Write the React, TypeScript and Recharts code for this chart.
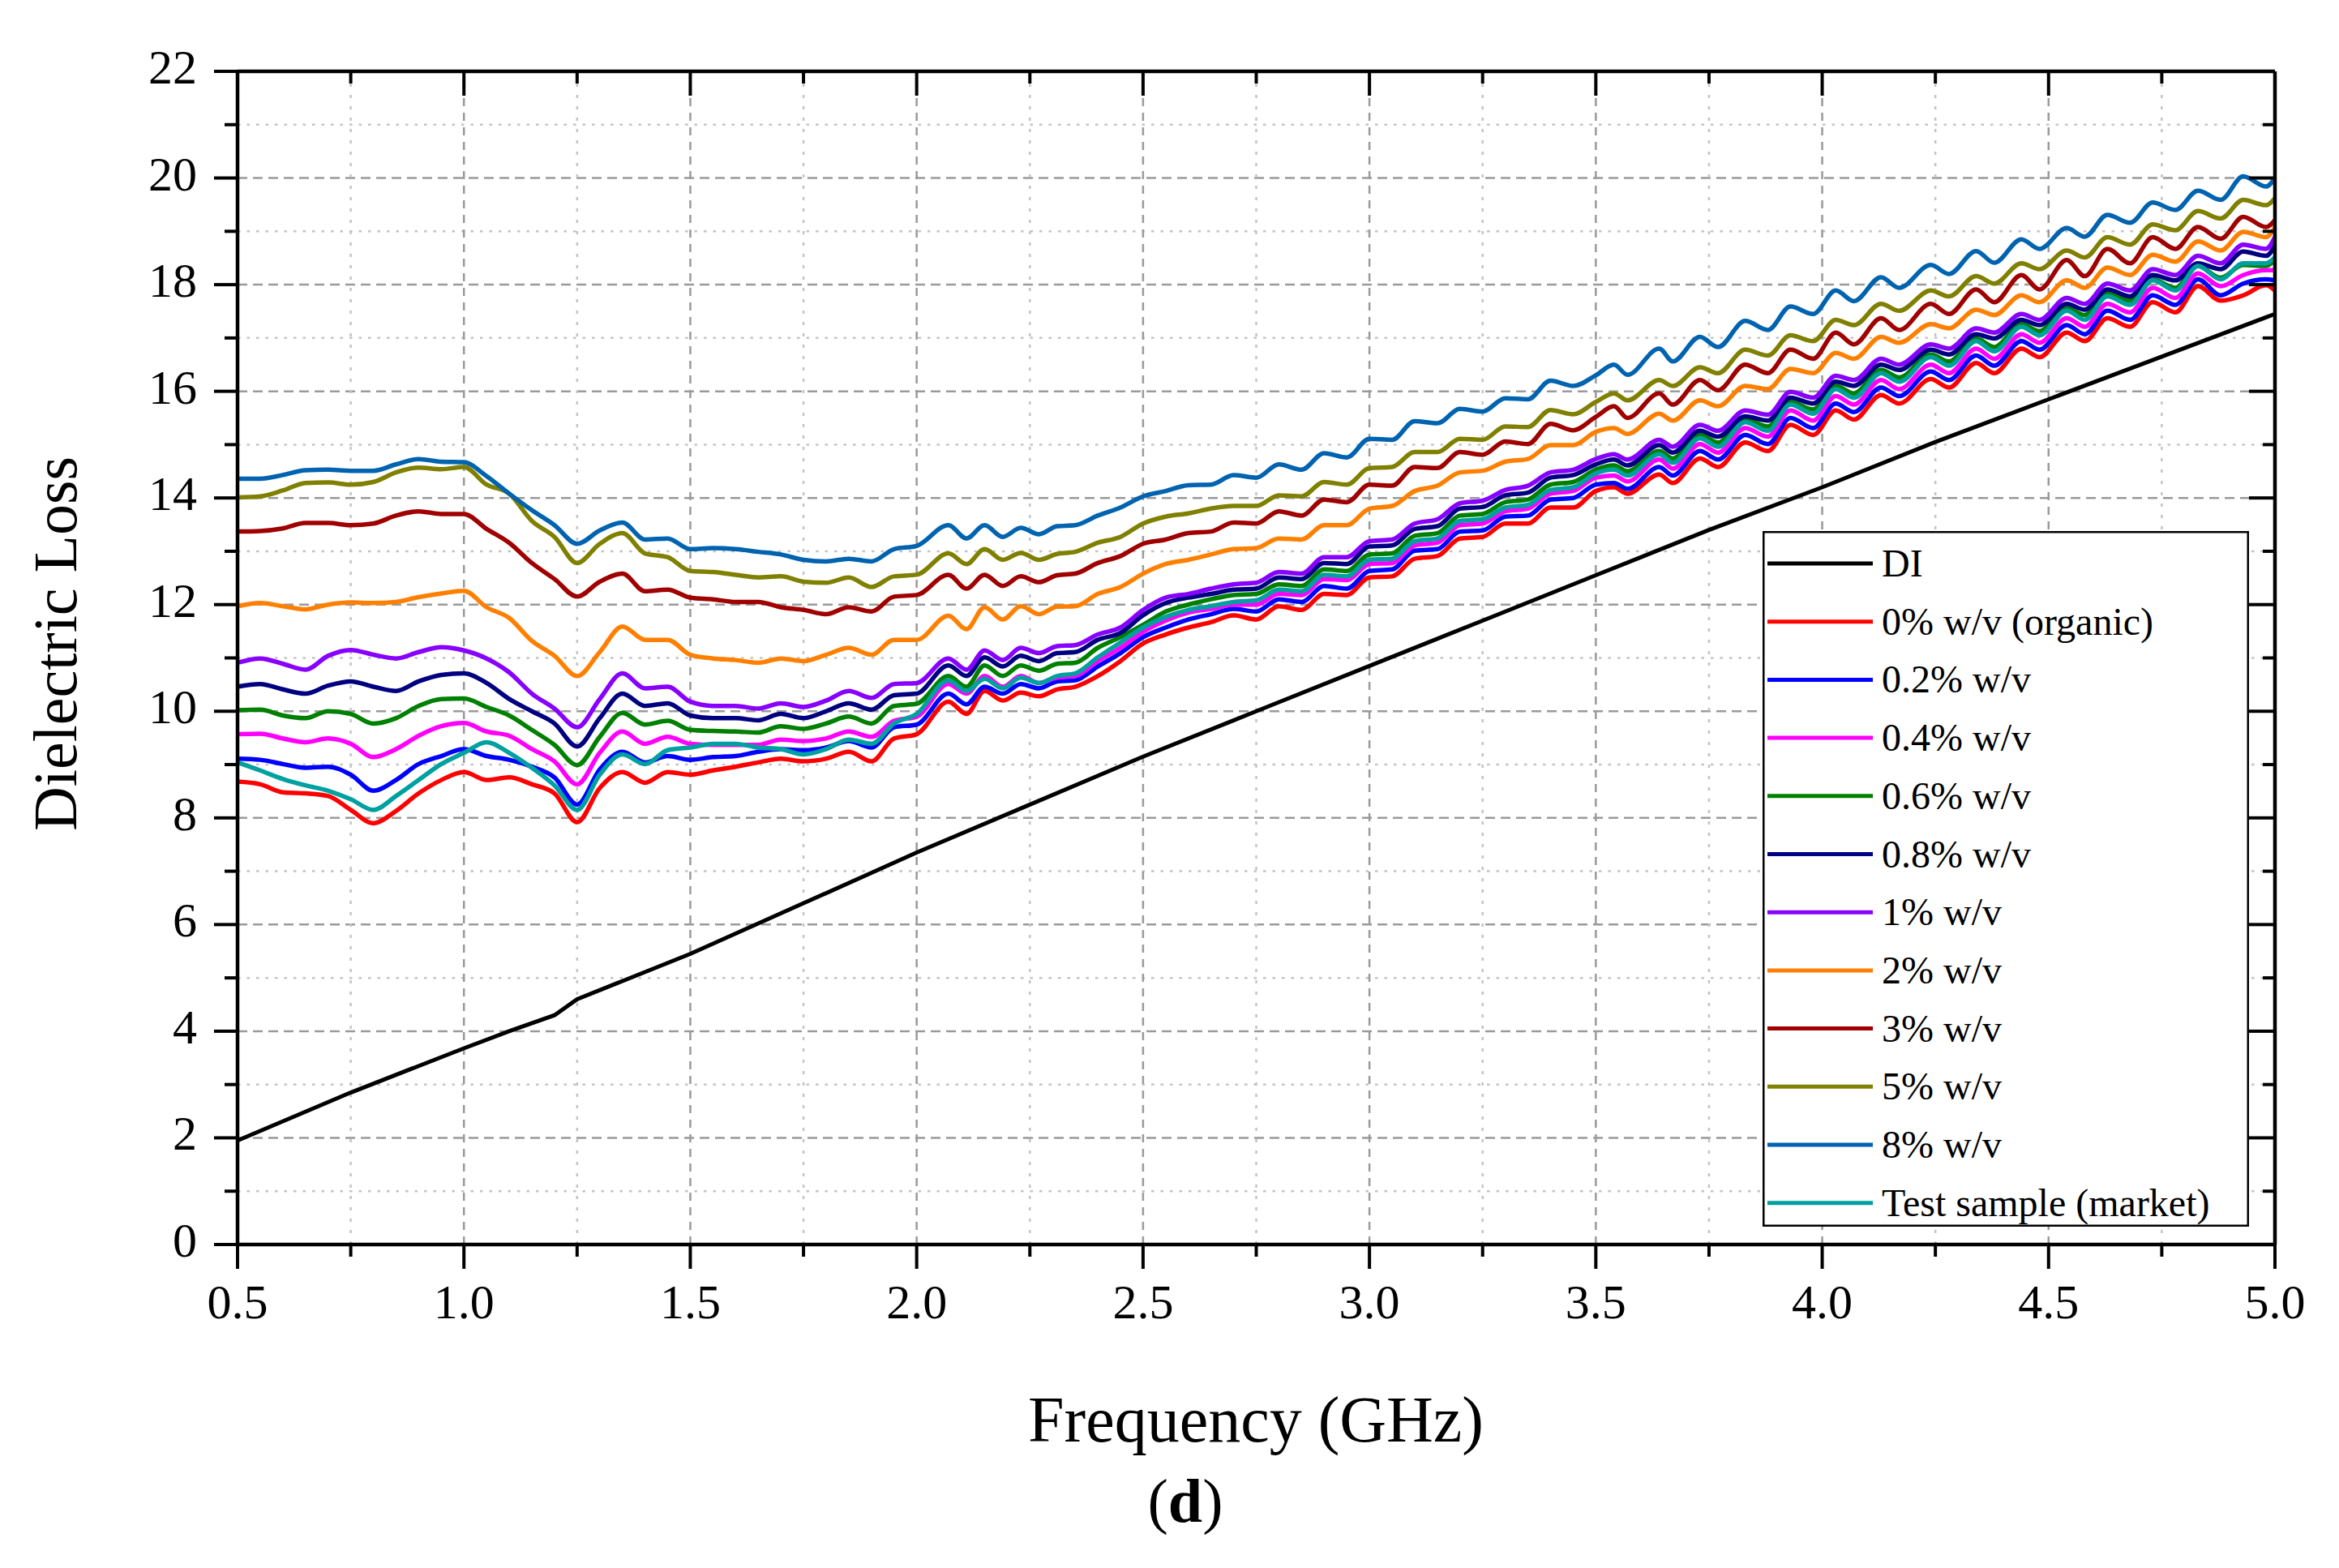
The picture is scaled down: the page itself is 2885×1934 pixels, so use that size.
import { LineChart, Line, XAxis, YAxis, ReferenceLine, Legend } from 'recharts'

const FONT = '"Liberation Serif", "Times New Roman", serif'

// frequency grid (GHz); denser around the ripple peaks/troughs
const FREQ = [
  0.5, 0.55, 0.6, 0.65, 0.7, 0.75, 0.8, 0.85, 0.9, 0.95, 1, 1.05, 1.1, 1.15, 1.2, 1.25, 1.3, 1.35, 1.4, 1.45, 1.5,
  1.55, 1.6, 1.65, 1.7, 1.75, 1.8, 1.85, 1.9, 1.95, 2,
  2.07, 2.11, 2.15, 2.19, 2.23, 2.27, 2.31, 2.35,
  2.4, 2.45, 2.5, 2.55, 2.6, 2.65, 2.7, 2.75, 2.8, 2.85, 2.9, 2.95, 3, 3.05, 3.1, 3.15, 3.2, 3.25, 3.3, 3.35, 3.4, 3.45, 3.5,
  3.54, 3.57, 3.64, 3.67, 3.73, 3.77, 3.83, 3.88, 3.93, 3.98, 4.03, 4.07, 4.13, 4.17, 4.24, 4.28, 4.34, 4.38, 4.44, 4.48,
  4.54, 4.58, 4.63, 4.68, 4.73, 4.78, 4.83, 4.88, 4.93, 4.98, 5,
]

const DI_FREQ = [0.5, 0.75, 1.0, 1.1, 1.2, 1.25, 1.5, 1.75, 2.0, 2.25, 2.5, 2.75, 3.0, 3.25, 3.5, 3.75, 4.0, 4.25, 4.5, 4.75, 5.0]
const DI_LOSS = [1.95, 2.85, 3.68, 4.0, 4.3, 4.6, 5.45, 6.4, 7.35, 8.25, 9.15, 10.0, 10.85, 11.7, 12.55, 13.4, 14.2, 15.05, 15.85, 16.65, 17.45]

const LOSS_0 = [
  8.68, 8.63, 8.48, 8.46, 8.41, 8.15, 7.90, 8.13, 8.46, 8.71, 8.86, 8.71, 8.76, 8.63, 8.46, 7.92, 8.56, 8.86, 8.66, 8.86, 8.81,
  8.89, 8.96, 9.04, 9.11, 9.06, 9.11, 9.24, 9.06, 9.49, 9.57,
  10.18, 9.95, 10.38, 10.20, 10.35, 10.28, 10.41, 10.46,
  10.66, 10.94, 11.27, 11.44, 11.57, 11.67, 11.80, 11.72, 11.97, 11.90, 12.20, 12.18, 12.51, 12.53, 12.86, 12.91, 13.24, 13.27, 13.52, 13.52, 13.82, 13.82, 14.13,
  14.20, 14.08, 14.44, 14.28, 14.74, 14.58, 15.04, 14.88, 15.37, 15.18, 15.64, 15.47, 15.93, 15.77, 16.23, 16.07, 16.53, 16.34, 16.80, 16.64,
  17.10, 16.94, 17.37, 17.21, 17.67, 17.48, 17.97, 17.70, 17.80, 17.99, 17.89,
]
const LOSS_02 = [
  9.11, 9.09, 9.01, 8.94, 8.96, 8.81, 8.51, 8.71, 9.01, 9.16, 9.29, 9.16, 9.09, 8.96, 8.76, 8.25, 8.91, 9.24, 9.04, 9.16, 9.09,
  9.14, 9.16, 9.24, 9.29, 9.27, 9.32, 9.44, 9.32, 9.70, 9.75,
  10.33, 10.13, 10.46, 10.33, 10.51, 10.43, 10.56, 10.58,
  10.84, 11.09, 11.39, 11.57, 11.72, 11.82, 11.92, 11.87, 12.10, 12.05, 12.35, 12.30, 12.63, 12.66, 13.01, 13.04, 13.37, 13.39, 13.65, 13.67, 13.97, 14.00, 14.25,
  14.28, 14.17, 14.58, 14.42, 14.88, 14.72, 15.18, 15.01, 15.50, 15.31, 15.77, 15.61, 16.07, 15.91, 16.37, 16.21, 16.67, 16.48, 16.94, 16.78,
  17.24, 17.07, 17.51, 17.34, 17.80, 17.62, 18.10, 17.80, 18.02, 18.10, 18.08,
]
const LOSS_04 = [
  9.57, 9.58, 9.49, 9.42, 9.49, 9.39, 9.14, 9.29, 9.54, 9.72, 9.78, 9.62, 9.54, 9.29, 9.06, 8.63, 9.22, 9.62, 9.39, 9.52, 9.39,
  9.37, 9.37, 9.37, 9.47, 9.44, 9.49, 9.62, 9.52, 9.82, 9.90,
  10.51, 10.33, 10.66, 10.46, 10.66, 10.53, 10.63, 10.66,
  10.94, 11.19, 11.49, 11.70, 11.85, 11.92, 12.00, 12.00, 12.20, 12.18, 12.48, 12.46, 12.76, 12.78, 13.11, 13.16, 13.49, 13.52, 13.75, 13.80, 14.08, 14.13, 14.38,
  14.42, 14.31, 14.72, 14.55, 15.01, 14.85, 15.31, 15.15, 15.64, 15.45, 15.91, 15.75, 16.21, 16.04, 16.50, 16.34, 16.80, 16.61, 17.07, 16.91,
  17.37, 17.21, 17.64, 17.48, 17.94, 17.75, 18.21, 17.97, 18.18, 18.27, 18.27,
]
const LOSS_06 = [
  10.02, 10.03, 9.92, 9.87, 10.00, 9.95, 9.77, 9.87, 10.10, 10.23, 10.24, 10.08, 9.92, 9.65, 9.37, 8.99, 9.52, 9.97, 9.75, 9.82, 9.65,
  9.63, 9.62, 9.60, 9.72, 9.67, 9.77, 9.90, 9.77, 10.10, 10.14,
  10.66, 10.46, 10.86, 10.66, 10.86, 10.76, 10.89, 10.91,
  11.19, 11.39, 11.62, 11.87, 12.00, 12.10, 12.18, 12.20, 12.38, 12.35, 12.66, 12.63, 12.94, 12.96, 13.29, 13.34, 13.67, 13.70, 13.92, 13.97, 14.25, 14.30, 14.53,
  14.61, 14.50, 14.88, 14.74, 15.18, 15.04, 15.47, 15.34, 15.80, 15.66, 16.10, 15.96, 16.40, 16.26, 16.69, 16.56, 16.99, 16.83, 17.26, 17.13,
  17.56, 17.43, 17.83, 17.70, 18.10, 17.94, 18.35, 18.13, 18.37, 18.35, 18.46,
]
const LOSS_08 = [
  10.46, 10.51, 10.41, 10.33, 10.48, 10.56, 10.46, 10.38, 10.56, 10.68, 10.71, 10.53, 10.23, 10.00, 9.77, 9.34, 9.87, 10.33, 10.10, 10.15, 9.92,
  9.87, 9.87, 9.83, 9.95, 9.87, 10.00, 10.15, 10.03, 10.30, 10.33,
  10.86, 10.66, 11.01, 10.84, 11.04, 10.94, 11.09, 11.11,
  11.34, 11.47, 11.80, 12.03, 12.13, 12.20, 12.28, 12.30, 12.51, 12.48, 12.78, 12.76, 13.09, 13.11, 13.42, 13.47, 13.80, 13.83, 14.05, 14.10, 14.38, 14.43, 14.63,
  14.72, 14.61, 14.99, 14.85, 15.26, 15.15, 15.53, 15.45, 15.88, 15.77, 16.18, 16.10, 16.50, 16.40, 16.78, 16.69, 17.07, 16.99, 17.34, 17.24,
  17.64, 17.53, 17.91, 17.78, 18.18, 18.08, 18.40, 18.29, 18.62, 18.54, 18.73,
]
const LOSS_1 = [
  10.91, 10.99, 10.89, 10.78, 11.04, 11.15, 11.06, 10.99, 11.11, 11.20, 11.14, 10.99, 10.73, 10.33, 10.05, 9.70, 10.23, 10.71, 10.43, 10.46, 10.18,
  10.10, 10.10, 10.05, 10.15, 10.08, 10.20, 10.38, 10.25, 10.51, 10.53,
  10.99, 10.78, 11.14, 10.96, 11.19, 11.09, 11.22, 11.24,
  11.44, 11.57, 11.90, 12.13, 12.20, 12.30, 12.38, 12.41, 12.61, 12.58, 12.89, 12.89, 13.19, 13.22, 13.52, 13.60, 13.90, 13.95, 14.15, 14.23, 14.48, 14.53, 14.73,
  14.82, 14.72, 15.09, 14.96, 15.37, 15.26, 15.64, 15.56, 15.99, 15.88, 16.29, 16.21, 16.61, 16.50, 16.88, 16.80, 17.18, 17.10, 17.45, 17.34,
  17.75, 17.64, 18.02, 17.89, 18.29, 18.18, 18.54, 18.40, 18.75, 18.67, 18.89,
]
const LOSS_2 = [
  11.97, 12.03, 11.97, 11.91, 12.00, 12.04, 12.03, 12.05, 12.14, 12.21, 12.26, 11.95, 11.75, 11.32, 11.04, 10.66, 11.11, 11.59, 11.34, 11.34, 11.06,
  10.99, 10.96, 10.91, 10.99, 10.94, 11.06, 11.19, 11.06, 11.34, 11.34,
  11.79, 11.54, 11.95, 11.72, 11.97, 11.82, 11.96, 11.97,
  12.20, 12.33, 12.58, 12.76, 12.84, 12.94, 13.04, 13.06, 13.24, 13.22, 13.49, 13.49, 13.80, 13.85, 14.13, 14.23, 14.48, 14.51, 14.68, 14.73, 14.99, 14.99, 15.24,
  15.31, 15.20, 15.58, 15.45, 15.83, 15.72, 16.10, 16.04, 16.42, 16.34, 16.72, 16.61, 17.02, 16.91, 17.26, 17.18, 17.53, 17.43, 17.80, 17.67,
  18.08, 17.94, 18.32, 18.18, 18.56, 18.43, 18.81, 18.64, 18.99, 18.89, 19.08,
]
const LOSS_3 = [
  13.37, 13.38, 13.43, 13.53, 13.53, 13.49, 13.52, 13.67, 13.75, 13.70, 13.70, 13.42, 13.16, 12.78, 12.48, 12.15, 12.43, 12.58, 12.25, 12.28, 12.13,
  12.10, 12.05, 12.05, 11.95, 11.90, 11.82, 11.95, 11.87, 12.15, 12.18,
  12.56, 12.30, 12.56, 12.35, 12.53, 12.42, 12.55, 12.58,
  12.78, 12.91, 13.14, 13.22, 13.34, 13.37, 13.54, 13.52, 13.75, 13.67, 13.97, 13.92, 14.25, 14.23, 14.58, 14.56, 14.86, 14.81, 15.06, 15.01, 15.39, 15.27, 15.52,
  15.72, 15.50, 15.96, 15.75, 16.21, 16.02, 16.50, 16.34, 16.78, 16.61, 17.10, 16.88, 17.37, 17.15, 17.64, 17.45, 17.91, 17.67, 18.18, 17.91,
  18.46, 18.16, 18.67, 18.40, 18.89, 18.67, 19.08, 18.86, 19.27, 19.08, 19.21,
]
const LOSS_5 = [
  14.01, 14.03, 14.14, 14.28, 14.29, 14.25, 14.30, 14.48, 14.57, 14.54, 14.58, 14.25, 14.08, 13.57, 13.27, 12.78, 13.14, 13.34, 12.96, 12.89, 12.63,
  12.61, 12.56, 12.51, 12.53, 12.43, 12.41, 12.51, 12.33, 12.53, 12.56,
  12.96, 12.76, 13.04, 12.84, 12.97, 12.84, 12.95, 12.99,
  13.16, 13.27, 13.52, 13.65, 13.71, 13.80, 13.85, 13.85, 14.05, 14.03, 14.30, 14.25, 14.56, 14.58, 14.86, 14.86, 15.11, 15.09, 15.34, 15.33, 15.65, 15.57, 15.80,
  15.96, 15.83, 16.21, 16.10, 16.45, 16.34, 16.78, 16.67, 17.05, 16.94, 17.34, 17.24, 17.64, 17.51, 17.89, 17.78, 18.16, 18.02, 18.40, 18.29,
  18.64, 18.51, 18.89, 18.75, 19.13, 19.02, 19.38, 19.24, 19.59, 19.49, 19.62,
]
const LOSS_8 = [
  14.36, 14.36, 14.43, 14.52, 14.53, 14.51, 14.51, 14.63, 14.73, 14.68, 14.67, 14.41, 14.08, 13.77, 13.49, 13.14, 13.39, 13.54, 13.22, 13.24, 13.04,
  13.06, 13.04, 12.99, 12.94, 12.84, 12.81, 12.86, 12.81, 13.04, 13.10,
  13.49, 13.24, 13.49, 13.27, 13.44, 13.32, 13.47, 13.49,
  13.67, 13.82, 14.03, 14.13, 14.24, 14.25, 14.43, 14.38, 14.63, 14.53, 14.84, 14.76, 15.11, 15.09, 15.44, 15.40, 15.67, 15.62, 15.87, 15.85, 16.20, 16.10, 16.30,
  16.50, 16.31, 16.80, 16.56, 17.02, 16.83, 17.32, 17.15, 17.59, 17.45, 17.89, 17.69, 18.14, 17.94, 18.37, 18.20, 18.63, 18.41, 18.85, 18.67,
  19.06, 18.90, 19.31, 19.16, 19.54, 19.40, 19.76, 19.59, 20.03, 19.84, 20.0,
]
const LOSS_TEST = [
  9.04, 8.89, 8.73, 8.61, 8.51, 8.35, 8.15, 8.41, 8.71, 9.01, 9.22, 9.42, 9.22, 8.94, 8.61, 8.15, 8.81, 9.19, 9.01, 9.27, 9.32,
  9.39, 9.39, 9.32, 9.29, 9.19, 9.29, 9.47, 9.39, 9.77, 9.95,
  10.58, 10.38, 10.61, 10.43, 10.63, 10.53, 10.66, 10.71,
  11.01, 11.29, 11.57, 11.77, 11.90, 11.97, 12.05, 12.08, 12.28, 12.25, 12.56, 12.53, 12.84, 12.86, 13.19, 13.24, 13.57, 13.60, 13.82, 13.87, 14.15, 14.20, 14.46,
  14.53, 14.42, 14.82, 14.66, 15.12, 14.96, 15.42, 15.26, 15.75, 15.58, 16.04, 15.88, 16.34, 16.18, 16.64, 16.48, 16.94, 16.75, 17.21, 17.05,
  17.51, 17.34, 17.78, 17.62, 18.08, 17.89, 18.35, 18.10, 18.40, 18.40, 18.51,
]

const MAJOR_X = [0.5, 1, 1.5, 2, 2.5, 3, 3.5, 4, 4.5, 5]
const MINOR_X = [0.75, 1.25, 1.75, 2.25, 2.75, 3.25, 3.75, 4.25, 4.75]
const MAJOR_Y = [0, 2, 4, 6, 8, 10, 12, 14, 16, 18, 20, 22]
const MINOR_Y = [1, 3, 5, 7, 9, 11, 13, 15, 17, 19, 21]

const SAMPLES = [
  { key: 'w0', name: '0% w/v (organic)', color: '#ff0000', values: LOSS_0 },
  { key: 'w02', name: '0.2% w/v', color: '#0000ff', values: LOSS_02 },
  { key: 'w04', name: '0.4% w/v', color: '#ff00ff', values: LOSS_04 },
  { key: 'w06', name: '0.6% w/v', color: '#008000', values: LOSS_06 },
  { key: 'w08', name: '0.8% w/v', color: '#000080', values: LOSS_08 },
  { key: 'w1', name: '1% w/v', color: '#8800ff', values: LOSS_1 },
  { key: 'w2', name: '2% w/v', color: '#ff8000', values: LOSS_2 },
  { key: 'w3', name: '3% w/v', color: '#a00000', values: LOSS_3 },
  { key: 'w5', name: '5% w/v', color: '#808000', values: LOSS_5 },
  { key: 'w8', name: '8% w/v', color: '#0063b0', values: LOSS_8 },
  { key: 'test', name: 'Test sample (market)', color: '#00a0a0', values: LOSS_TEST },
]
const LEGEND_ITEMS = [{ name: 'DI', color: '#000000' }, ...SAMPLES]

const rows = FREQ.map((f, i) => {
  const r: Record<string, number> = { f }
  SAMPLES.forEach((s) => { r[s.key] = s.values[i] })
  return r
})
const diRows = DI_FREQ.map((f, i) => ({ f, di: DI_LOSS[i] }))

const X_TICKS = [...MAJOR_X, ...MINOR_X].sort((a, b) => a - b)
const Y_TICKS = [...MAJOR_Y, ...MINOR_Y].sort((a, b) => a - b)
const AXIS_LINE = { stroke: '#000', strokeWidth: 4.5 }

function BottomTick({ x, y, payload }: any) {
  const major = MAJOR_X.includes(payload.value)
  return (
    <g>
      <line x1={x} y1={y} x2={x} y2={y + (major ? 30 : 15)} stroke="#000" strokeWidth={4} />
      {major && (
        <text x={x} y={y + 91} textAnchor="middle" fontSize={60} fontFamily={FONT} fill="#000">
          {payload.value.toFixed(1)}
        </text>
      )}
    </g>
  )
}

function TopTick({ x, y, payload }: any) {
  const major = MAJOR_X.includes(payload.value)
  return <line x1={x} y1={y} x2={x} y2={y + (major ? 30 : 15)} stroke="#000" strokeWidth={4} />
}

function LeftTick({ x, y, payload }: any) {
  const major = MAJOR_Y.includes(payload.value)
  return (
    <g>
      <line x1={x} y1={y} x2={x - (major ? 29 : 16)} y2={y} stroke="#000" strokeWidth={4} />
      {major && (
        <text x={x - 50} y={y + 15} textAnchor="end" fontSize={60} fontFamily={FONT} fill="#000">
          {payload.value}
        </text>
      )}
    </g>
  )
}

function RightTick({ x, y, payload }: any) {
  const major = MAJOR_Y.includes(payload.value)
  return <line x1={x} y1={y} x2={x - (major ? 32 : 15)} y2={y} stroke="#000" strokeWidth={4} />
}

function LegendBox() {
  return (
    <svg width={600} height={858} style={{ display: 'block' }}>
      <rect x={1.25} y={1.25} width={597.5} height={855.5} fill="#fff" stroke="#000" strokeWidth={2.5} />
      {LEGEND_ITEMS.map((s, i) => {
        const cy = 40 + i * 71.7
        return (
          <g key={s.name}>
            <line x1={6} x2={136} y1={cy} y2={cy} stroke={s.color} strokeWidth={5} />
            <text x={147} y={cy + 16} fontSize={48} fontFamily={FONT} fill="#000">{s.name}</text>
          </g>
        )
      })}
    </svg>
  )
}

export default function App() {
  return (
    <div style={{ position: 'absolute', left: 0, top: 0, width: 2885, height: 1934, background: '#fff' }}>
      <LineChart width={2885} height={1934} data={rows} margin={{ top: 87, right: 78, bottom: 398, left: 292 }}>
        {MAJOR_Y.filter((v) => v > 0 && v < 22).map((v) => (
          <ReferenceLine key={'gy' + v} y={v} stroke="#9a9a9a" strokeWidth={2.5} strokeDasharray="12 7" />
        ))}
        {MINOR_Y.map((v) => (
          <ReferenceLine key={'my' + v} y={v} stroke="#c4c4c4" strokeWidth={2.5} strokeDasharray="3.5 8" />
        ))}
        {MAJOR_X.filter((v) => v > 0.5 && v < 5).map((v) => (
          <ReferenceLine key={'gx' + v} x={v} stroke="#9a9a9a" strokeWidth={2.5} strokeDasharray="10 8" />
        ))}
        {MINOR_X.map((v) => (
          <ReferenceLine key={'mx' + v} x={v} stroke="#c4c4c4" strokeWidth={2.5} strokeDasharray="4 10" />
        ))}
        <Line data={diRows} dataKey="di" name="DI" stroke="#000" strokeWidth={5} dot={false}
          isAnimationActive={false} type="linear" />
        {SAMPLES.map((s) => (
          <Line key={s.key} dataKey={s.key} name={s.name} stroke={s.color} strokeWidth={5.5} dot={false}
            isAnimationActive={false} type="monotone" strokeLinejoin="round" />
        ))}
        <XAxis dataKey="f" type="number" domain={[0.5, 5]} ticks={X_TICKS} interval={0} height={1}
          tickSize={0} tickMargin={0} tickLine={false} axisLine={AXIS_LINE} tick={(p: any) => <BottomTick {...p} />} />
        <XAxis xAxisId="top" orientation="top" dataKey="f" type="number" domain={[0.5, 5]} allowDataOverflow
          ticks={X_TICKS} interval={0} height={1} tickSize={0} tickMargin={0} tickLine={false} axisLine={AXIS_LINE}
          tick={(p: any) => <TopTick {...p} />} />
        <YAxis type="number" domain={[0, 22]} ticks={Y_TICKS} interval={0} width={1} tickSize={0} tickMargin={0}
          tickLine={false} axisLine={AXIS_LINE} tick={(p: any) => <LeftTick {...p} />} />
        <YAxis yAxisId="right" orientation="right" type="number" domain={[0, 22]} allowDataOverflow ticks={Y_TICKS}
          interval={0} width={1} tickSize={0} tickMargin={0} tickLine={false} axisLine={AXIS_LINE}
          tick={(p: any) => <RightTick {...p} />} />
        <Legend layout="vertical" align="center" verticalAlign="middle" width={600} height={858}
          wrapperStyle={{ left: 2174, top: 655, width: 600, height: 858 }} content={() => <LegendBox />} />
      </LineChart>
      <svg width={2885} height={1934} style={{ position: 'absolute', left: 0, top: 0, pointerEvents: 'none' }}>
        <text transform="translate(94,794) rotate(-90)" textAnchor="middle" fontSize={76} fontFamily={FONT} fill="#000">
          Dielectric Loss
        </text>
        <text x={1549} y={1778} textAnchor="middle" fontSize={80} fontFamily={FONT} fill="#000">
          Frequency (GHz)
        </text>
        <text x={1462} y={1877} textAnchor="middle" fontSize={76} fontFamily={FONT} fill="#000">
          (<tspan fontWeight="bold">d</tspan>)
        </text>
      </svg>
    </div>
  )
}
